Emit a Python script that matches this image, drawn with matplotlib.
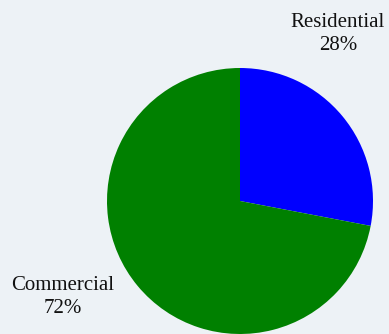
import matplotlib
matplotlib.use("Agg")
import matplotlib.pyplot as plt

# Floor area split by use
labels = ["Residential", "Commercial"]
shares = [28, 72]
colors = ["#0000ff", "#008000"]

W, H = 389, 334
bg = "#edf2f6"

fig = plt.figure(figsize=(W / 100, H / 100), dpi=100, facecolor=bg)
ax = fig.add_axes([0, 0, 1, 1])
ax.set_facecolor(bg)

ax.pie(shares, colors=colors, startangle=90, counterclock=False,
       center=(240, 133), radius=133,
       wedgeprops=dict(linewidth=0, antialiased=True))

ax.set_xlim(0, W)
ax.set_ylim(0, H)
ax.set_aspect("equal")
ax.axis("off")

# labels sit outside the pie
label_pos = {"Residential": (338, 300), "Commercial": (63, 37)}
for name, val in zip(labels, shares):
    x, y = label_pos[name]
    ax.text(x, y, f"{name}\n{val}%", ha="center", va="center",
            fontsize=15, family="Liberation Serif", color="#111111",
            linespacing=1.3)

fig.savefig("out.png", dpi=100, facecolor=bg)
